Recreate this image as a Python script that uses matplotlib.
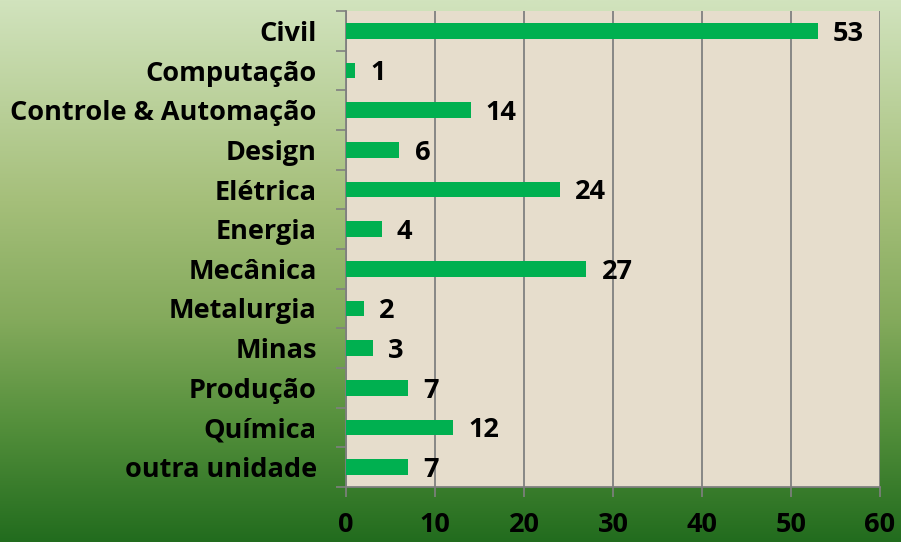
import matplotlib
matplotlib.use("Agg")
import matplotlib.pyplot as plt
import numpy as np
from matplotlib.colors import LinearSegmentedColormap

categories = ["Civil", "Computação", "Controle & Automação", "Design", "Elétrica",
              "Energia", "Mecânica", "Metalurgia", "Minas", "Produção", "Química",
              "outra unidade"]
values = [53, 1, 14, 6, 24, 4, 27, 2, 3, 7, 12, 7]
xticks = [0, 10, 20, 30, 40, 50, 60]

plt.rcParams['font.family'] = ['Open Sans', 'DejaVu Sans']
FS = 19.5

fig = plt.figure(figsize=(9.01, 5.42), dpi=100)

# gradient background
bg = fig.add_axes([0, 0, 1, 1], zorder=-10)
cmap = LinearSegmentedColormap.from_list(
    "bg", [(0.0, "#d1e3bd"), (0.37, "#a5bf7a"), (0.59, "#84aa5c"),
           (0.78, "#55903c"), (1.0, "#226c1e")])
grad = np.linspace(0, 1, 256).reshape(-1, 1)
bg.imshow(grad, aspect="auto", cmap=cmap, extent=[0, 1, 0, 1], origin="upper")
bg.axis("off")

ax = fig.add_axes([346/901, 1-487/542, (880-346)/901, (487-11)/542])
ax.set_facecolor("#e6ddcc")
y = np.arange(len(categories))
ax.barh(y, values, height=0.4, color="#00b050", zorder=3)
ax.set_ylim(len(categories) - 0.5, -0.5)
ax.set_xlim(0, 60)
ax.set_xticks(xticks)
ax.set_xticklabels([str(t) for t in xticks], fontsize=FS, fontweight="bold")
ax.set_yticks(y)
ax.set_yticklabels(categories, fontsize=FS, fontweight="bold")
ax.tick_params(axis="y", length=0, pad=21)
ax.set_yticks(np.arange(-0.5, len(categories), 1), minor=True)
ax.tick_params(axis="y", which="minor", length=7, color="#808080", width=1.2)
ax.tick_params(axis="x", length=7, color="#808080", width=1.2, pad=11)
ax.xaxis.grid(True, color="#808080", linewidth=1.3, zorder=1)
ax.set_axisbelow(True)
for s in ["top", "right"]:
    ax.spines[s].set_visible(False)
for s in ["left", "bottom"]:
    ax.spines[s].set_color("#808080")
    ax.spines[s].set_linewidth(1.3)

for yi, v in zip(y, values):
    ax.annotate(str(v), xy=(v, yi), xytext=(11, -2), textcoords="offset points",
                ha="left", va="center", fontsize=FS, fontweight="bold", color="black")

fig.savefig("out.png", dpi=100)
